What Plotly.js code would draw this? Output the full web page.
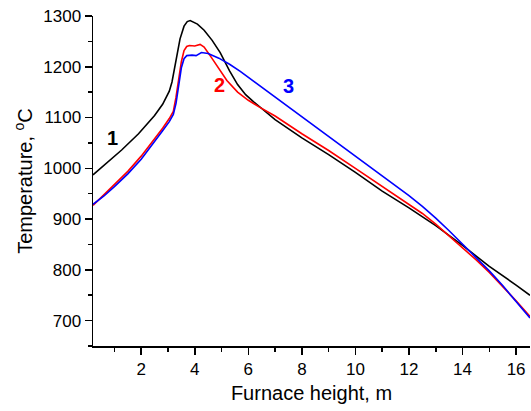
<!DOCTYPE html>
<html>
<head>
<meta charset="utf-8">
<script src="https://cdn.plot.ly/plotly-3.0.1.min.js"></script>
<style>html,body{margin:0;padding:0;background:#fff;}#chart{width:531px;height:411px;}</style>
</head>
<body>
<div id="chart"></div>
<script>
// Curve 1 (black)
var x1 = [0.2, 0.65, 1.27, 1.9, 2.5, 2.8, 3.05, 3.15, 3.3, 3.45, 3.6, 3.72, 3.83, 3.95, 4.1, 4.35, 4.65, 4.95, 5.3, 5.6, 5.9, 6.2, 6.6, 7.0, 8.0, 9.0, 10.0, 11.0, 12.0, 13.0, 14.0, 15.0, 16.0, 16.52];
var t1 = [987, 1007, 1036, 1068, 1104, 1126, 1152, 1170, 1210, 1255, 1280, 1289, 1291, 1288, 1284, 1272, 1252, 1228, 1192, 1165, 1145, 1131, 1113, 1096, 1060, 1027, 992, 955, 922, 887, 848, 807, 770, 750];
// Curve 2 (red)
var x2 = [0.2, 0.6, 1.0, 1.5, 2.0, 2.5, 2.8, 3.05, 3.2, 3.3, 3.4, 3.5, 3.6, 3.7, 3.8, 4.0, 4.2, 4.35, 4.6, 4.9, 5.2, 5.6, 6.0, 6.4, 7.0, 8.0, 9.0, 10.0, 11.0, 12.0, 12.5, 13.0, 13.5, 14.0, 14.5, 15.0, 15.5, 16.0, 16.52];
var t2 = [927, 947, 967, 994, 1024, 1058, 1079, 1098, 1112, 1140, 1175, 1210, 1232, 1240, 1242, 1241, 1244, 1239, 1220, 1197, 1173, 1150, 1134, 1121, 1103, 1068, 1035, 1000, 964, 929, 911, 890, 867, 844, 820, 795, 768, 739, 708];
// Curve 3 (blue)
var x3 = [0.2, 0.6, 1.0, 1.5, 2.0, 2.5, 2.8, 3.05, 3.2, 3.3, 3.4, 3.5, 3.6, 3.7, 3.9, 4.05, 4.25, 4.5, 4.9, 5.3, 5.7, 6.5, 7.5, 8.5, 9.5, 10.5, 11.3, 12.0, 12.5, 13.0, 13.5, 14.0, 14.5, 15.0, 15.5, 16.0, 16.52];
var t3 = [929, 945, 964, 989, 1018, 1052, 1074, 1092, 1106, 1128, 1165, 1198, 1216, 1222, 1223, 1222, 1228, 1226, 1217, 1205, 1191, 1160, 1122, 1083, 1044, 1005, 973, 946, 925, 902, 877, 851, 825, 798, 769, 737, 705];

var curveLabels = ['1', '2', '3'];
var labelX = [0.94, 4.91, 7.51];
var labelY = [1059, 1164, 1163];
var colors = ['#000000', '#ff0000', '#0000ff'];

var xTickVals = [2, 4, 6, 8, 10, 12, 14, 16];
var yTickVals = [700, 800, 900, 1000, 1100, 1200, 1300];

var xs = [x1, x2, x3], ts = [t1, t2, t3];
var data = [];
for (var i = 0; i < 3; i++) {
  data.push({x: xs[i], y: ts[i], type: 'scatter', mode: 'lines',
    line: {color: colors[i], width: 1.6}, showlegend: false, hoverinfo: 'skip'});
}
var annotations = [];
for (var j = 0; j < 3; j++) {
  annotations.push({x: labelX[j], y: labelY[j], xref: 'x', yref: 'y', text: '<b>' + curveLabels[j] + '</b>',
    showarrow: false, font: {family: 'Liberation Sans, Arial, sans-serif', size: 20, color: colors[j]}});
}
var font = {family: 'Liberation Sans, Arial, sans-serif', size: 17, color: '#000'};
var titleFont = {family: 'Liberation Sans, Arial, sans-serif', size: 20, color: '#000'};
var layout = {
  width: 531, height: 411,
  margin: {l: 93, r: 1, t: 16, b: 65},
  paper_bgcolor: '#fff', plot_bgcolor: '#fff',
  font: font,
  showlegend: false,
  xaxis: {range: [0.2, 16.52], tickvals: xTickVals, ticktext: xTickVals.map(String),
    ticks: 'outside', ticklen: 7, tickwidth: 1.5, tickcolor: '#000',
    minor: {tick0: 0, dtick: 1, ticks: 'outside', ticklen: 4, tickwidth: 1.5, tickcolor: '#000'},
    showline: true, linecolor: '#000', linewidth: 1.5, showgrid: false, zeroline: false,
    tickfont: font,
    title: {text: 'Furnace height, m', font: titleFont, standoff: 8}},
  yaxis: {range: [650, 1300], tickvals: yTickVals, ticktext: yTickVals.map(String),
    ticks: 'outside', ticklen: 7, tickwidth: 1.5, tickcolor: '#000',
    minor: {tick0: 0, dtick: 50, ticks: 'outside', ticklen: 4, tickwidth: 1.5, tickcolor: '#000'},
    showline: true, linecolor: '#000', linewidth: 1.5, showgrid: false, zeroline: false,
    tickfont: font,
    title: {text: 'Temperature, <sup>o</sup>C', font: titleFont, standoff: 5}},
  xaxis2: {overlaying: 'x', side: 'top', range: [0.2, 16.52], tick0: 0, dtick: 1,
    ticks: 'inside', ticklen: 7, tickwidth: 1.5, tickcolor: '#000', showticklabels: false,
    showline: true, linecolor: '#000', linewidth: 1.5, showgrid: false, zeroline: false},
  yaxis2: {overlaying: 'y', side: 'right', range: [650, 1300], tick0: 0, dtick: 100,
    ticks: 'inside', ticklen: 5, tickwidth: 1.5, tickcolor: '#000', showticklabels: false,
    showline: true, linecolor: '#000', linewidth: 1.5, showgrid: false, zeroline: false},
  annotations: annotations
};
Plotly.newPlot('chart', data, layout, {staticPlot: true, displayModeBar: false});
</script>
</body>
</html>
